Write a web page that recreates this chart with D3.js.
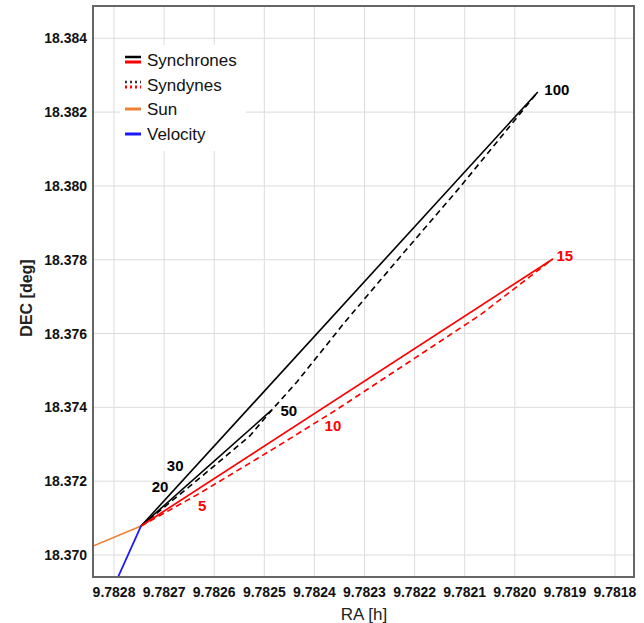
<!DOCTYPE html>
<html>
<head>
<meta charset="utf-8">
<script src="https://cdn.jsdelivr.net/npm/d3@7"></script>
<style>
  body { margin: 0; background: #fff; }
  svg { font-family: "Liberation Sans", Arial, sans-serif; }
</style>
</head>
<body>
<div id="vis"></div>
<script>
const FRAME_WIDTH = 644;
const FRAME_HEIGHT = 623;
const MARGINS = {left: 93, right: 10, top: 6, bottom: 46};

// axis ranges and ticks
const RA_DOMAIN = [9.782842, 9.781762];
const DEC_DOMAIN = [18.369404, 18.384875];
const RA_TICKS = [9.7828, 9.7827, 9.7826, 9.7825, 9.7824, 9.7823, 9.7822, 9.7821, 9.7820, 9.7819, 9.7818];
const RA_GRID = [9.7828, 9.7827, 9.7826, 9.7825, 9.7824, 9.7823, 9.7822, 9.7821, 9.7820, 9.7818];
const DEC_TICKS = [18.370, 18.372, 18.374, 18.376, 18.378, 18.380, 18.382, 18.384];

// nucleus position
const nucleus = [9.782746, 18.370786];

// series: [RA, DEC]
const sunLine = [[9.782842, 18.370244], nucleus];
const velocityLine = [nucleus, [9.782792, 18.369404]];
const synchroneBlack100 = [nucleus, [9.781954, 18.382547]];
const synchroneBlack50 = [nucleus, [9.782485, 18.373930]];
const syndyneBlack = [nucleus, [9.782648, 18.371870], [9.782574, 18.372710], [9.782529, 18.373225],
  [9.782485, 18.373930], [9.782435, 18.374688], [9.782339, 18.376314], [9.782229, 18.378076],
  [9.782109, 18.379973], [9.781954, 18.382547]];
const synchroneRed15 = [nucleus, [9.781924, 18.378022]];
const syndyneRed = [nucleus, [9.782628, 18.371680], [9.782489, 18.372818], [9.782363, 18.373875],
  [9.782199, 18.375339], [9.782069, 18.376504], [9.781924, 18.378022]];

const labelText = ["20", "30", "50", "100", "5", "10", "15"];
const labelRA = [9.782708, 9.782678, 9.782451, 9.781916, 9.782624, 9.782363, 9.781900];
const labelDEC = [18.371843, 18.372412, 18.373902, 18.382602, 18.371328, 18.373496, 18.378103];
const labelColor = ["black", "black", "black", "black", "red", "red", "red"];

const legendNames = ["Synchrones", "Syndynes", "Sun", "Velocity"];

const svg = d3.select("#vis").append("svg")
  .attr("width", FRAME_WIDTH)
  .attr("height", FRAME_HEIGHT);

const X = d3.scaleLinear().domain(RA_DOMAIN).range([MARGINS.left, FRAME_WIDTH - MARGINS.right]);
const Y = d3.scaleLinear().domain(DEC_DOMAIN).range([FRAME_HEIGHT - MARGINS.bottom, MARGINS.top]);

// grid
svg.append("g").selectAll("line").data(RA_GRID).enter().append("line")
  .attr("x1", d => X(d)).attr("x2", d => X(d))
  .attr("y1", Y.range()[1]).attr("y2", Y.range()[0])
  .attr("stroke", "#dcdcdc").attr("stroke-width", 1);
svg.append("g").selectAll("line").data(DEC_TICKS).enter().append("line")
  .attr("y1", d => Y(d)).attr("y2", d => Y(d))
  .attr("x1", X.range()[0]).attr("x2", X.range()[1])
  .attr("stroke", "#dcdcdc").attr("stroke-width", 1);

// tick labels
svg.append("g").selectAll("text").data(RA_TICKS).enter().append("text")
  .attr("x", d => X(d)).attr("y", 597)
  .attr("text-anchor", "middle")
  .attr("font-size", 14).attr("font-weight", "bold").attr("fill", "#111")
  .text(d => d3.format(".4f")(d));
svg.append("g").selectAll("text").data(DEC_TICKS).enter().append("text")
  .attr("x", 87).attr("y", d => Y(d) + 5)
  .attr("text-anchor", "end")
  .attr("font-size", 14).attr("font-weight", "bold").attr("fill", "#111")
  .text(d => d3.format(".3f")(d));

// axis titles
svg.append("text")
  .attr("x", 364).attr("y", 620)
  .attr("text-anchor", "middle").attr("font-size", 17).attr("fill", "#222")
  .text("RA [h]");
svg.append("text")
  .attr("transform", "translate(32,298) rotate(-90)")
  .attr("text-anchor", "middle").attr("font-size", 16).attr("font-weight", "bold").attr("fill", "#222")
  .text("DEC [deg]");

// clip to plot area
svg.append("clipPath").attr("id", "plotclip").append("rect")
  .attr("x", X.range()[0]).attr("y", Y.range()[1])
  .attr("width", X.range()[1] - X.range()[0])
  .attr("height", Y.range()[0] - Y.range()[1]);

const plot = svg.append("g").attr("clip-path", "url(#plotclip)");
const line = d3.line().x(d => X(d[0])).y(d => Y(d[1]));

const series = [
  {pts: sunLine, color: "#ee8033", dash: null, w: 1.6},
  {pts: velocityLine, color: "#1a1aff", dash: null, w: 1.8},
  {pts: syndyneBlack, color: "black", dash: "6,4", w: 1.6},
  {pts: synchroneBlack50, color: "black", dash: null, w: 1.6},
  {pts: synchroneBlack100, color: "black", dash: null, w: 1.6},
  {pts: syndyneRed, color: "red", dash: "6,4", w: 1.6},
  {pts: synchroneRed15, color: "red", dash: null, w: 1.7}
];

plot.selectAll("path").data(series).enter().append("path")
  .attr("d", d => line(d.pts))
  .attr("fill", "none")
  .attr("stroke", d => d.color)
  .attr("stroke-width", d => d.w)
  .attr("stroke-dasharray", d => d.dash);

// labels on the lines
svg.append("g").selectAll("text").data(labelText).enter().append("text")
  .attr("x", (d, i) => X(labelRA[i]))
  .attr("y", (d, i) => Y(labelDEC[i]) + 5)
  .attr("text-anchor", "middle")
  .attr("font-size", 15).attr("font-weight", "bold")
  .attr("fill", (d, i) => labelColor[i])
  .text(d => d);

// legend
const legend = svg.append("g");
legend.append("rect")
  .attr("x", 120).attr("y", 45).attr("width", 126).attr("height", 106)
  .attr("fill", "white");
const rowY = [60, 85, 109, 134];
legend.selectAll("text").data(legendNames).enter().append("text")
  .attr("x", 147).attr("y", (d, i) => rowY[i] + 6)
  .attr("font-size", 17).attr("fill", "#111")
  .text(d => d);
// icons
legend.append("line").attr("x1", 125).attr("x2", 141).attr("y1", rowY[0] - 3).attr("y2", rowY[0] - 3)
  .attr("stroke", "black").attr("stroke-width", 2.5);
legend.append("line").attr("x1", 125).attr("x2", 141).attr("y1", rowY[0] + 2).attr("y2", rowY[0] + 2)
  .attr("stroke", "red").attr("stroke-width", 3);
legend.append("line").attr("x1", 125).attr("x2", 141).attr("y1", rowY[1] - 3).attr("y2", rowY[1] - 3)
  .attr("stroke", "#333").attr("stroke-width", 2.5).attr("stroke-dasharray", "2,3");
legend.append("line").attr("x1", 125).attr("x2", 141).attr("y1", rowY[1] + 2).attr("y2", rowY[1] + 2)
  .attr("stroke", "red").attr("stroke-width", 3).attr("stroke-dasharray", "2,3");
legend.append("line").attr("x1", 125).attr("x2", 141).attr("y1", rowY[2]).attr("y2", rowY[2])
  .attr("stroke", "#ee8033").attr("stroke-width", 3);
legend.append("line").attr("x1", 125).attr("x2", 141).attr("y1", rowY[3]).attr("y2", rowY[3])
  .attr("stroke", "#1a1aff").attr("stroke-width", 3);

// frame
svg.append("rect")
  .attr("x", X.range()[0]).attr("y", Y.range()[1])
  .attr("width", X.range()[1] - X.range()[0])
  .attr("height", Y.range()[0] - Y.range()[1])
  .attr("fill", "none").attr("stroke", "#666").attr("stroke-width", 2);
</script>
</body>
</html>
